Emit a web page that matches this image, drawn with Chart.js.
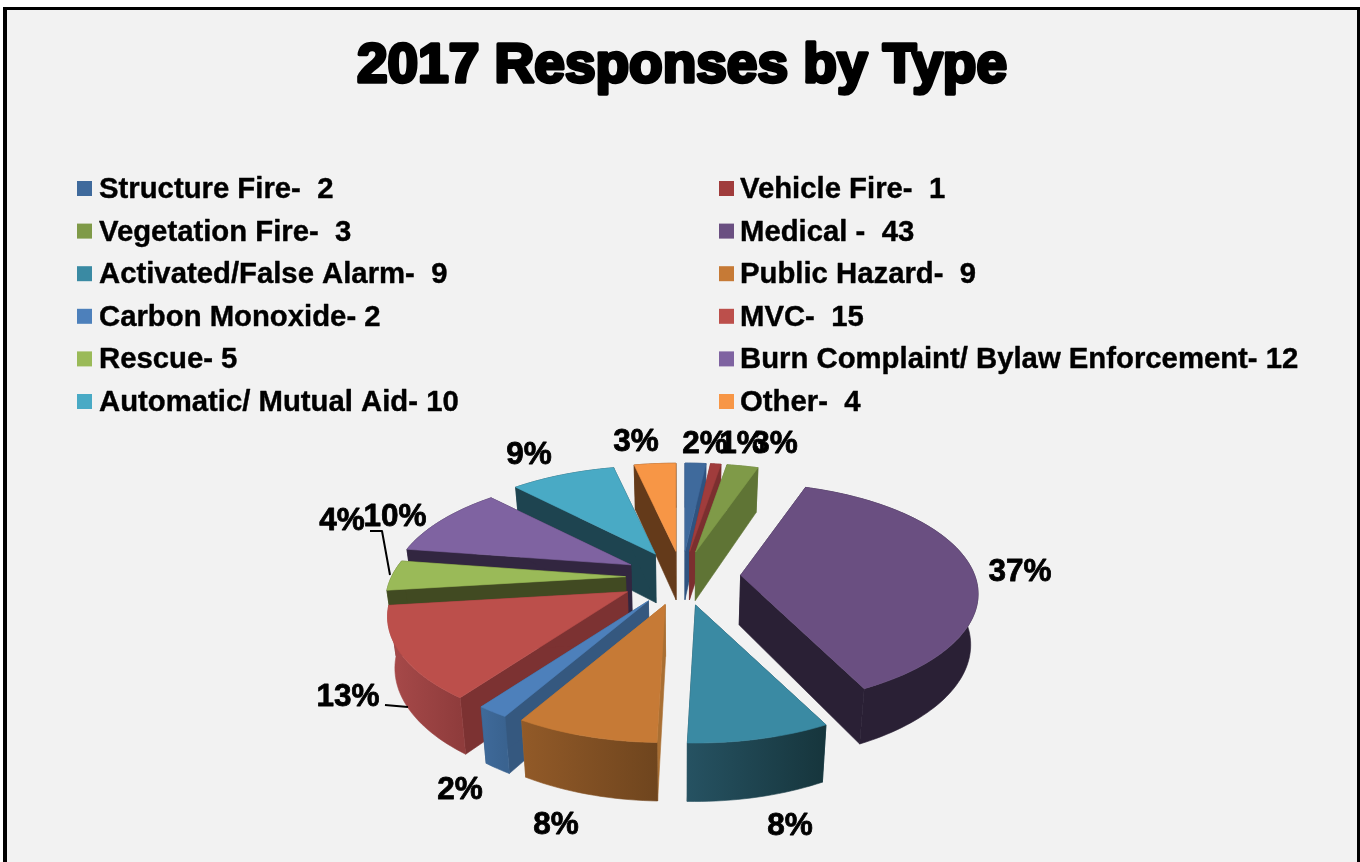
<!DOCTYPE html>
<html>
<head>
<meta charset="utf-8">
<title>2017 Responses by Type</title>
<script src="https://cdn.jsdelivr.net/npm/chart.js@4/dist/chart.umd.min.js"></script>
<style>
  html, body { margin: 0; padding: 0; background: #fff; overflow: hidden; }
  #frame { position: absolute; left: 3px; top: 7px; right: 0; bottom: -10px; background: #f2f2f2; border: solid #000; border-width: 3px 3px 3px 4px; }
  #pie { position: absolute; left: 0; top: 0; }
</style>
</head>
<body>
<div id="frame"></div>
<canvas id="pie" width="1360" height="862"></canvas>
<script>
/* global Chart */

const categories = [
  "Structure Fire-  2", "Vehicle Fire-  1", "Vegetation Fire-  3", "Medical -  43",
  "Activated/False Alarm-  9", "Public Hazard-  9", "Carbon Monoxide- 2", "MVC-  15",
  "Rescue- 5", "Burn Complaint/ Bylaw Enforcement- 12", "Automatic/ Mutual Aid- 10", "Other-  4",
];
const values = [2, 1, 3, 43, 9, 9, 2, 15, 5, 12, 10, 4];

const topColors = ["#3f6a9c", "#a03c3c", "#7f9a48", "#6a4f81", "#3a8aa3", "#c67a36",
  "#4d80bb", "#bc4f4b", "#9aba58", "#7f63a1", "#49aac5", "#f79646"];
const cutColors = ["#2f5380", "#7b2f2f", "#5f7435", "#2a2035", "#1d4450", "#a96f33",
  "#35587f", "#7c3232", "#414a22", "#322640", "#1e4450", "#643a1a"];
const rimColors = [
  ["#2f5380", "#2f5380"], ["#7b2f2f", "#7b2f2f"], ["#5f7435", "#5f7435"], ["#2a2035", "#2a2035"],
  ["#265262", "#16353c"], ["#925a28", "#6f451e"], ["#3f6a9a", "#3a6390"], ["#a84a4a", "#8f3c3c"],
  ["#5a6a30", "#414a22"], ["#322640", "#322640"], ["#1e4450", "#1e4450"], ["#643a1a", "#643a1a"],
];
const explode = [236, 236, 236, 236, 236, 236, 236, 246, 226, 236, 236, 236];

// how much nearer parts of each slice grow; the big slice is a bit flatter
const nearGrow = [0.22, 0.22, 0.22, 0.17, 0.22, 0.22, 0.22, 0.22, 0.22, 0.22, 0.22, 0.22];

// percent label centres, same order as the slices
const labelSpots = [[705, 444], [742, 444], [775, 444], [1020, 572], [790, 826], [556, 825],
  [460, 790], [348, 697], [342, 521], [395, 517], [529, 455], [636, 442]];
const leaders = [
  [[385, 705], [408, 707]],
  [[370, 531], [382, 531], [390, 575]],
];

const TILT = 0.46;    // vertical squash of the pie plane
const DEPTH = 50;     // wall height in px
const FOOT = 0.975;   // the underside sits a little further from the viewer

function project(u, v, r, grow) {
  const s = 1 / (1 - grow * v);
  return { x: r * u * s, y: r * TILT * v * s, s: s };
}

function fillPoly(ctx, pts, color) {
  ctx.beginPath();
  pts.forEach((p, i) => (i ? ctx.lineTo(p.x, p.y) : ctx.moveTo(p.x, p.y)));
  ctx.closePath();
  ctx.fillStyle = color;
  ctx.strokeStyle = color;
  ctx.lineWidth = 0.6;
  ctx.fill();
  ctx.stroke();
}

function drawSlice(ctx, arc, i) {
  const r = arc.outerRadius;
  const mid = (arc.startAngle + arc.endAngle) / 2;
  const e = arc.options.offset / 4 / r;
  const shift = project(e * Math.cos(mid), e * Math.sin(mid), r, 0.22);
  const ax = arc.x + shift.x;
  const ay = arc.y + shift.y;

  const rim = [];
  const steps = Math.max(6, Math.ceil((arc.endAngle - arc.startAngle) * 40));
  for (let k = 0; k <= steps; k++) {
    const a = arc.startAngle + ((arc.endAngle - arc.startAngle) * k) / steps;
    const p = project(Math.cos(a), Math.sin(a), r, nearGrow[i]);
    rim.push({ x: ax + p.x, y: ay + p.y, s: p.s });
  }
  const under = (p) => ({
    x: arc.x + (p.x - arc.x) * FOOT,
    y: p.y + DEPTH * (1 + (p.s - 1) * 0.6),
  });
  const apex = { x: ax, y: ay, s: shift.s };
  const first = rim[0];
  const last = rim[rim.length - 1];

  const xs = rim.map((p) => p.x);
  const grad = ctx.createLinearGradient(Math.min(...xs), 0, Math.max(...xs), 0);
  grad.addColorStop(0, rimColors[i][0]);
  grad.addColorStop(1, rimColors[i][1]);
  const rimWall = rim.concat(rim.slice().reverse().map(under));
  const isBack = Math.sin(mid) < 0;

  if (isBack) fillPoly(ctx, rimWall, grad);
  fillPoly(ctx, [apex, first, under(first), under(apex)], cutColors[i]);
  fillPoly(ctx, [apex, last, under(last), under(apex)], cutColors[i]);
  if (!isBack) fillPoly(ctx, rimWall, grad);
  fillPoly(ctx, [apex].concat(rim), topColors[i]);
}

const pie3d = {
  id: "pie3d",
  beforeDatasetDraw(chart, args) {
    const ctx = chart.ctx;
    const arcs = args.meta.data.map((arc, i) => ({ arc, i }));
    arcs.sort((a, b) => Math.sin((a.arc.startAngle + a.arc.endAngle) / 2) - Math.sin((b.arc.startAngle + b.arc.endAngle) / 2));
    ctx.save();
    arcs.forEach((d) => drawSlice(ctx, d.arc, d.i));
    ctx.restore();
    return false;
  },
  afterDraw(chart) {
    const ctx = chart.ctx;
    ctx.save();

    // heavier title
    const tb = chart.titleBlock;
    ctx.font = "bold 55px 'Liberation Sans'";
    ctx.textAlign = "center";
    ctx.textBaseline = "middle";
    ctx.strokeStyle = "#000";
    ctx.lineWidth = 3.5;
    ctx.lineJoin = "round";
    ctx.strokeText(chart.options.plugins.title.text, (tb.left + tb.right) / 2, tb.top + 34 + 33);

    // two column legend
    ctx.textAlign = "left";
    ctx.font = "bold 29.3px 'Liberation Sans'";
    ctx.lineWidth = 0.4;
    categories.forEach((name, i) => {
      const col = i % 2;
      const row = Math.floor(i / 2);
      const y = 188.5 + row * 42.6;
      ctx.fillStyle = topColors[i];
      ctx.fillRect(col ? 719 : 77, y - 7.5, 15, 15);
      ctx.fillStyle = "#000";
      ctx.fillText(name, col ? 740 : 99, y + 1.5);
      ctx.strokeText(name, col ? 740 : 99, y + 1.5);
    });

    // percent labels
    const total = values.reduce((a, b) => a + b, 0);
    ctx.textAlign = "center";
    ctx.font = "bold 31.5px 'Liberation Sans'";
    ctx.lineWidth = 0.8;
    values.forEach((v, i) => {
      const txt = Math.round((v / total) * 100) + "%";
      ctx.fillText(txt, labelSpots[i][0], labelSpots[i][1]);
      ctx.strokeText(txt, labelSpots[i][0], labelSpots[i][1]);
    });

    ctx.lineWidth = 2;
    leaders.forEach((line) => {
      ctx.beginPath();
      line.forEach((p, i) => (i ? ctx.lineTo(p[0], p[1]) : ctx.moveTo(p[0], p[1])));
      ctx.stroke();
    });
    ctx.restore();
  },
};

new Chart(document.getElementById("pie"), {
  type: "pie",
  data: {
    labels: categories,
    datasets: [{ data: values, backgroundColor: topColors, borderWidth: 0, offset: explode }],
  },
  options: {
    responsive: false,
    animation: false,
    events: [],
    radius: 234,
    layout: { padding: { left: 4 } },
    plugins: {
      legend: { display: false },
      tooltip: { enabled: false },
      title: {
        display: true,
        text: "2017 Responses by Type",
        color: "#000",
        font: { family: "'Liberation Sans'", size: 55, weight: "bold", lineHeight: 1.2 },
        padding: { top: 34, bottom: 192 },
      },
    },
  },
  plugins: [pie3d],
});
</script>
</body>
</html>
